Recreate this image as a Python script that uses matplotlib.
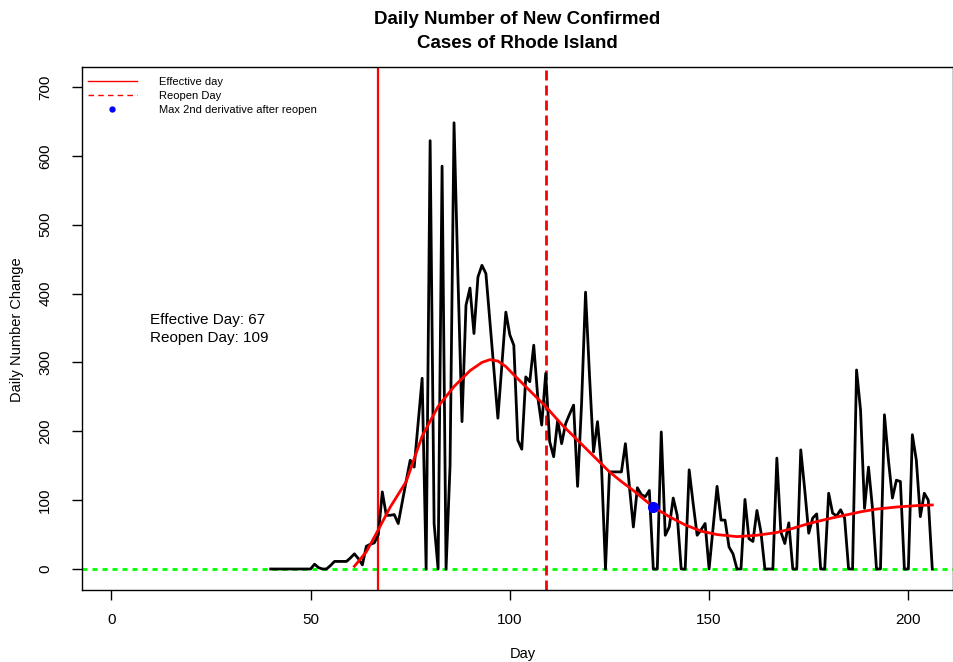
import numpy as np
import matplotlib
matplotlib.use('Agg')
import matplotlib.pyplot as plt
from matplotlib.lines import Line2D

plt.rcParams['font.family'] = ['Liberation Sans', 'DejaVu Sans']

# daily new confirmed cases, day 40 .. 206
first_day = 40
cases = [0, 0, 0, 0, 0, 0, 0, 0, 0, 0,
         0, 7, 2, 0, 0, 5, 11, 11, 11, 11,
         16, 22, 15, 6, 33, 36, 38, 50, 112, 78,
         78, 79, 66, 97, 128, 158, 148, 212, 277, 0,
         622, 66, 0, 585, 0, 150, 648, 420, 214, 383,
         408, 342, 424, 441, 429, 360, 290, 219, 296, 373,
         340, 325, 187, 174, 279, 272, 325, 250, 209, 284,
         185, 163, 216, 182, 211, 225, 238, 120, 240, 402,
         280, 170, 214, 150, 0, 141, 141, 141, 141, 182,
         120, 61, 118, 108, 105, 114, 0, 0, 199, 49,
         61, 103, 78, 0, 0, 144, 95, 49, 57, 66,
         0, 60, 120, 71, 71, 32, 22, 0, 0, 101,
         44, 40, 85, 54, 0, 0, 0, 161, 54, 37,
         67, 0, 0, 173, 115, 52, 74, 80, 0, 0,
         110, 81, 77, 86, 74, 0, 0, 289, 231, 88,
         148, 88, 0, 0, 224, 158, 103, 129, 127, 0,
         0, 195, 158, 76, 110, 100, 0]
days = np.arange(first_day, first_day + len(cases))

# smoothed curve
smooth_days = [61, 64, 67, 70, 74, 78, 82, 86, 90, 93, 95, 97, 99, 101, 105,
               109, 113, 117, 121, 125, 128, 131, 136, 140, 144, 148, 152,
               157, 162, 167, 171, 175, 180, 184, 188, 192, 197, 202, 206]
smooth_vals = [4, 25, 57, 90, 127, 193, 236, 265, 288, 300, 304, 302, 294, 282, 259,
               236, 210, 187, 164, 141, 127, 114, 90, 76, 64, 55, 50,
               47, 49, 53, 59, 66, 73, 78, 83, 87, 90, 92, 93]

effective_day = 67
reopen_day = 109
max_deriv_day = 136
max_deriv_val = 90

fig = plt.figure(figsize=(9.54, 6.62), dpi=100)
ax = fig.add_axes([82 / 954, 1 - 590 / 662, (953 - 82) / 954, (590 - 67) / 662])

ax.axhline(0, color='#00FF00', lw=2, linestyle=(0, (1.8, 1.8)), zorder=1)
ax.axvline(effective_day, color='#FF0000', lw=1.6, zorder=2)
ax.axvline(reopen_day, color='#FF0000', lw=2, linestyle=(0, (3.6, 1.8)), zorder=2)
ax.plot(days, cases, color='black', lw=2, zorder=3)
ax.plot(smooth_days, smooth_vals, color='#FF0000', lw=2, zorder=4)
ax.plot([max_deriv_day], [max_deriv_val], 'o', color='#0000FF', ms=7, zorder=5)

ax.set_xlim(-7.35, 211.2)
ax.set_ylim(-30.5, 729)
ax.set_xticks([0, 50, 100, 150, 200])
ax.set_yticks([0, 100, 200, 300, 400, 500, 600, 700])
ax.tick_params(direction='out', length=7, width=1, labelsize=11, colors='black')
ax.tick_params(axis='x', pad=9.5)
ax.tick_params(axis='y', pad=14.5)
for lab in ax.get_yticklabels():
    lab.set_rotation(90)
    lab.set_va('center')
for s in ax.spines.values():
    s.set_linewidth(1)

ax.text(9.7, 362, 'Effective Day: 67', fontsize=11, ha='left', va='center')
ax.text(9.7, 335, 'Reopen Day: 109', fontsize=11, ha='left', va='center')

handles = [Line2D([], [], color='#FF0000', lw=1),
           Line2D([], [], color='#FF0000', lw=1, linestyle=(0, (4, 3))),
           Line2D([], [], color='#0000FF', marker='o', ms=3.5, lw=0)]
ax.legend(handles, ['Effective day', 'Reopen Day', 'Max 2nd derivative after reopen'],
          loc='upper left', bbox_to_anchor=(6 / 871, 1 - 10 / 523), frameon=False,
          fontsize=8, handlelength=4.4, handletextpad=2.0, labelspacing=0.35,
          borderpad=0, borderaxespad=0)

fig.text(517.5 / 954, 1 - 20 / 662, 'Daily Number of New Confirmed', fontsize=13.5,
         fontweight='bold', ha='center', va='center')
fig.text(517.5 / 954, 1 - 43 / 662, 'Cases of Rhode Island', fontsize=13.5,
         fontweight='bold', ha='center', va='center')
fig.text(523 / 954, 1 - 654 / 662, 'Day', fontsize=10.5, ha='center', va='center')
fig.text(17 / 954, 1 - 330 / 662, 'Daily Number Change', fontsize=10.5, ha='center',
         va='center', rotation=90)

fig.savefig('out.png', dpi=100)
